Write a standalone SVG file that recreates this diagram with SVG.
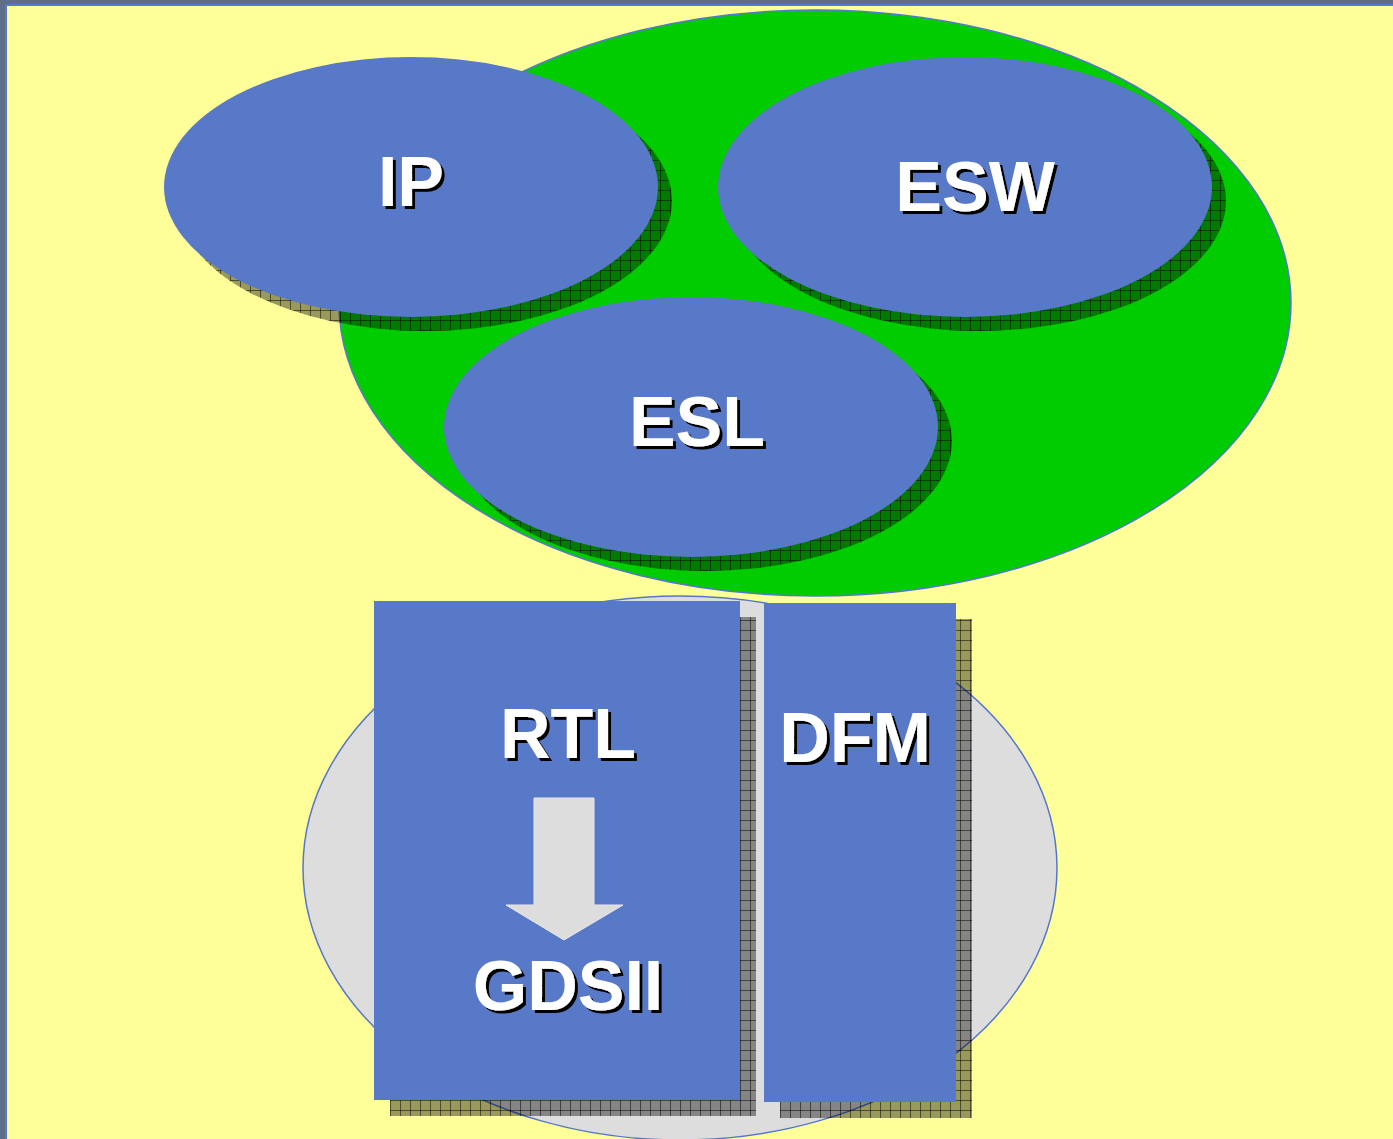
<svg xmlns="http://www.w3.org/2000/svg" width="1393" height="1139" viewBox="0 0 1393 1139">
<defs>
<pattern id="hatch" width="10" height="10" patternUnits="userSpaceOnUse">
<rect width="10" height="10" fill="#000" fill-opacity="0.4"/>
<path d="M0 0.5H10M0.5 0V10" stroke="#000" stroke-opacity="0.5" stroke-width="1"/>
</pattern>
<filter id="ts" x="-10%" y="-10%" width="130%" height="130%">
<feOffset in="SourceAlpha" dx="3" dy="3" result="o"/>
<feFlood flood-color="#000"/>
<feComposite in2="o" operator="in" result="s"/>
<feMerge><feMergeNode in="s"/><feMergeNode in="SourceGraphic"/></feMerge>
</filter>
<style>
.blue{fill:#5878C8}
.shadow{fill:url(#hatch)}
.lbl{font-family:"Liberation Sans",Arial,sans-serif;font-weight:bold;font-size:70px;text-anchor:middle;fill:#FFF;filter:url(#ts)}
</style>
</defs>
<rect width="1393" height="1139" fill="#FFFF99"/>
<rect x="0" y="0" width="1393" height="4" fill="#5E6E86"/>
<rect x="0" y="0" width="5" height="1139" fill="#5E6E86"/>
<rect x="5" y="4" width="1388" height="2" fill="#5A78C8"/>
<rect x="5" y="4" width="2" height="1135" fill="#5A78C8"/>

<g id="upper-group">
<ellipse cx="815" cy="303" rx="476" ry="293" fill="#00CC00" stroke="#5577CC" stroke-width="1.5"/>
</g>
<g id="lower-group">
<ellipse cx="680" cy="868" rx="377" ry="272" fill="#DDDDDD" stroke="#5577CC" stroke-width="1.5"/>
</g>

<g id="IP">
<ellipse class="shadow" cx="425" cy="201" rx="247" ry="130"/>
<ellipse class="blue" cx="411" cy="187" rx="247" ry="130"/>
<text class="lbl" x="411" y="206">IP</text>
</g>
<g id="ESW">
<ellipse class="shadow" cx="979" cy="201" rx="247" ry="130"/>
<ellipse class="blue" cx="965" cy="187" rx="247" ry="130"/>
<text class="lbl" x="975" y="211">ESW</text>
</g>
<g id="ESL">
<ellipse class="shadow" cx="705" cy="441" rx="247" ry="130"/>
<ellipse class="blue" cx="691" cy="427" rx="247" ry="130"/>
<text class="lbl" x="697" y="446">ESL</text>
</g>

<g id="RTL-GDSII">
<rect class="shadow" x="390" y="617" width="366" height="499"/>
<rect class="blue" x="374" y="601" width="366" height="499"/>
<text class="lbl" x="568" y="758">RTL</text>
<text class="lbl" x="568" y="1010">GDSII</text>
</g>
<g id="DFM">
<rect class="shadow" x="780" y="619" width="192" height="499"/>
<rect class="blue" x="764" y="603" width="192" height="499"/>
<text class="lbl" x="855" y="762">DFM</text>
</g>

<g id="connectors">
<path d="M534 798H594V905H623L564 940L506 905H534Z" fill="#DDDDDD" stroke="#E8E8E8" stroke-width="1"/>
</g>
</svg>
